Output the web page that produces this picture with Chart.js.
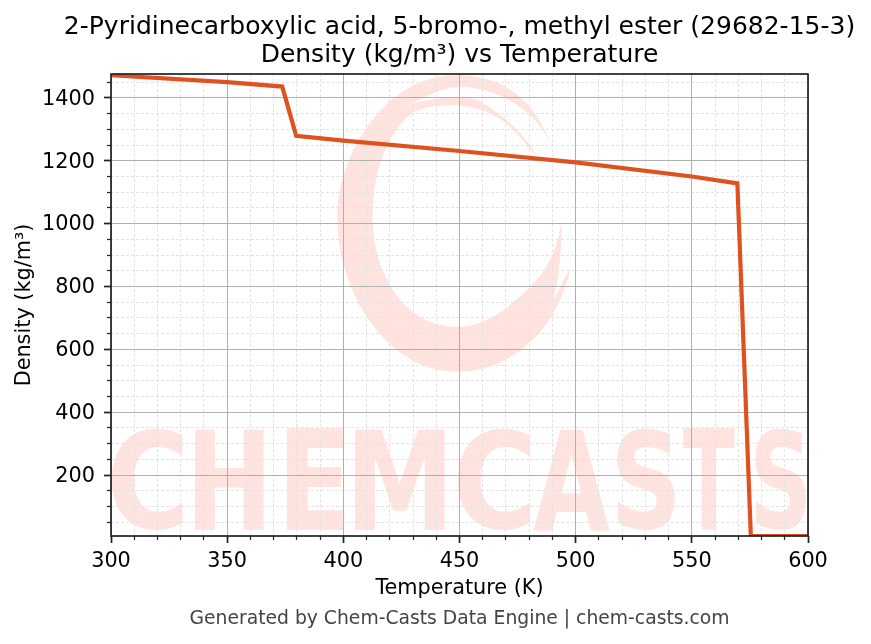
<!DOCTYPE html>
<html>
<head>
<meta charset="utf-8">
<title>Density vs Temperature</title>
<script src="https://cdn.jsdelivr.net/npm/chart.js@4"></script>
<style>
  html, body { margin: 0; padding: 0; background: #fff; }
  #wrap { width: 871px; height: 644px; }
</style>
</head>
<body>
<div id="wrap"><canvas id="densityChart" width="871" height="644"></canvas></div>
<script>
var temperature = [300, 350, 373.7, 379.7, 400, 450, 500, 550, 569.6, 575.4, 600];
var density = [1472, 1450, 1436, 1279, 1264, 1231, 1195, 1150, 1128, 6, 6];

var xMajorTicks = [300, 350, 400, 450, 500, 550, 600];
var yMajorTicks = [200, 400, 600, 800, 1000, 1200, 1400];
var xMinorTicks = [310, 320, 330, 340, 360, 370, 380, 390, 410, 420, 430, 440, 460, 470, 480, 490, 510, 520, 530, 540, 560, 570, 580, 590];
var yMinorTicks = [50, 100, 150, 250, 300, 350, 450, 500, 550, 650, 700, 750, 850, 900, 950, 1050, 1100, 1150, 1250, 1300, 1350, 1450];

var xRange = [300, 600];
var yRange = [6, 1476];

var font = '"DejaVu Sans", sans-serif';
var wmColor = '#ffe3de';

// letters of the watermark, each one squeezed in its own box [left, right]
var wmLetters = [['C', 111, 183], ['H', 195, 264], ['E', 287, 345], ['M', 355, 445], ['C', 457, 530],
                 ['A', 533, 610], ['S', 617, 675], ['T', 683, 735], ['S', 755, 806]];

function setTicks(list) {
    return function (scale) {
        scale.ticks = list.map(function (v) { return { value: v }; });
    };
}

var watermark = {
    id: 'watermark',
    afterLayout: function (chart) {
        // the tick labels get clipped to the scale box, so open it up to the canvas edge
        chart.scales.y.left = 0;
    },
    beforeDraw: function (chart) {
        var c = chart.ctx;
        c.save();
        c.fillStyle = wmColor;

        // swirl, coordinates are taken on a 3x grid
        c.save();
        c.translate(330, 70);
        c.scale(1 / 3, 1 / 3);
        c.beginPath();
        c.moveTo(668, 240);
        c.bezierCurveTo(620, 90, 520, 15, 380, 15);
        c.bezierCurveTo(170, 15, 22, 250, 22, 440);
        c.bezierCurveTo(22, 680, 180, 905, 380, 905);
        c.bezierCurveTo(560, 905, 690, 760, 722, 590);
        c.lineTo(670, 690);
        c.bezierCurveTo(690, 620, 695, 520, 695, 450);
        c.bezierCurveTo(680, 560, 640, 610, 600, 650);
        c.bezierCurveTo(510, 740, 450, 770, 380, 770);
        c.bezierCurveTo(230, 770, 128, 620, 128, 440);
        c.bezierCurveTo(128, 290, 180, 180, 250, 125);
        c.bezierCurveTo(320, 100, 420, 95, 500, 140);
        c.bezierCurveTo(550, 170, 590, 225, 620, 260);
        c.bezierCurveTo(590, 200, 530, 140, 440, 88);
        c.bezierCurveTo(370, 75, 290, 88, 235, 105);
        c.bezierCurveTo(300, 70, 350, 50, 400, 50);
        c.bezierCurveTo(540, 60, 640, 150, 668, 240);
        c.closePath();
        c.fill();
        c.restore();

        // letters
        c.font = 'bold 120px ' + font;
        c.textBaseline = 'alphabetic';
        c.textAlign = 'left';
        wmLetters.forEach(function (l) {
            var m = c.measureText(l[0]);
            var w = m.actualBoundingBoxRight + m.actualBoundingBoxLeft;
            var h = m.actualBoundingBoxAscent + m.actualBoundingBoxDescent;
            c.save();
            c.translate(l[1], 429);
            c.scale((l[2] - l[1]) / w, 101 / h);
            c.fillText(l[0], m.actualBoundingBoxLeft, m.actualBoundingBoxAscent);
            c.restore();
        });
        c.restore();
    },
    afterDraw: function (chart) {
        // frame on all four sides
        var a = chart.chartArea, c = chart.ctx;
        c.save();
        c.strokeStyle = '#222';
        c.lineWidth = 1.7;
        c.strokeRect(a.left, a.top, a.right - a.left, a.bottom - a.top);
        c.restore();
    }
};

var ctx = document.getElementById('densityChart').getContext('2d');
var densityChart = new Chart(ctx, {
    type: 'line',
    data: {
        labels: temperature,
        datasets: [{
            data: temperature.map(function (t, i) { return { x: t, y: density[i] }; }),
            borderColor: '#de5220',
            borderWidth: 4.2,
            pointRadius: 0,
            tension: 0,
            clip: 0,
            borderJoinStyle: 'miter'
        }]
    },
    plugins: [watermark],
    options: {
        responsive: false,
        animation: false,
        // left padding keeps the titles centred over the plot, not over the canvas
        layout: { padding: { left: 48, right: 0, top: 0, bottom: 0 } },
        plugins: {
            legend: { display: false },
            tooltip: { enabled: false },
            title: {
                display: true,
                text: ['2-Pyridinecarboxylic acid, 5-bromo-, methyl ester (29682-15-3)', 'Density (kg/m³) vs Temperature'],
                color: '#000',
                font: { family: font, size: 25, weight: 'normal', lineHeight: 1.12 },
                padding: { top: 13, bottom: 5 }
            },
            subtitle: {
                display: true,
                position: 'bottom',
                text: 'Generated by Chem-Casts Data Engine | chem-casts.com',
                color: '#444',
                font: { family: font, size: 18.75, weight: 'normal', lineHeight: 1.2 },
                padding: { top: 8, bottom: 13.5 }
            }
        },
        scales: {
            xMinor: {
                type: 'linear', axis: 'x',
                min: xRange[0], max: xRange[1],
                position: { y: yRange[0] },
                afterBuildTicks: setTicks(xMinorTicks),
                border: { display: false, dash: [3, 2] },
                grid: { color: '#e3e3e3', lineWidth: 1, tickColor: '#222', tickWidth: 1.2, tickLength: 4, z: -2 },
                ticks: { display: false, autoSkip: false }
            },
            yMinor: {
                type: 'linear', axis: 'y',
                min: yRange[0], max: yRange[1],
                position: { x: xRange[0] },
                afterBuildTicks: setTicks(yMinorTicks),
                border: { display: false, dash: [3, 2] },
                grid: { color: '#e3e3e3', lineWidth: 1, tickColor: '#222', tickWidth: 1.2, tickLength: 4, z: -2 },
                ticks: { display: false, autoSkip: false }
            },
            x: {
                type: 'linear',
                min: xRange[0], max: xRange[1],
                afterBuildTicks: setTicks(xMajorTicks),
                afterFit: function (scale) { scale.height = 64; },
                border: { display: false },
                grid: { color: '#b0b0b0', lineWidth: 1, tickColor: '#222', tickWidth: 1.7, tickLength: 7 },
                ticks: { color: '#000', maxRotation: 0, autoSkip: false, padding: 6.5, font: { family: font, size: 20.8 },
                         callback: function (v) { return String(v); } },
                title: { display: true, text: 'Temperature (K)', color: '#000', font: { family: font, size: 20.8 }, padding: { top: 0, bottom: -1.5 } }
            },
            y: {
                type: 'linear',
                min: yRange[0], max: yRange[1],
                afterBuildTicks: setTicks(yMajorTicks),
                afterFit: function (scale) { scale.width = 63; },
                border: { display: false },
                grid: { color: '#b0b0b0', lineWidth: 1, tickColor: '#222', tickWidth: 1.7, tickLength: 7 },
                ticks: { color: '#000', autoSkip: false, padding: 9, labelOffset: 1.5, font: { family: font, size: 20.8 },
                         callback: function (v) { return String(v); } },
                title: { display: true, text: 'Density (kg/m³)', color: '#000', font: { family: font, size: 20.8 }, padding: { top: 12.5, bottom: 0 } }
            },
            // empty axis, only holds the white margin right of the plot
            yRight: {
                type: 'linear', axis: 'y', position: 'right',
                min: yRange[0], max: yRange[1],
                afterFit: function (scale) { scale.width = 63; },
                border: { display: false },
                grid: { display: false, drawTicks: false },
                ticks: { display: false }
            }
        }
    }
});
</script>
</body>
</html>
